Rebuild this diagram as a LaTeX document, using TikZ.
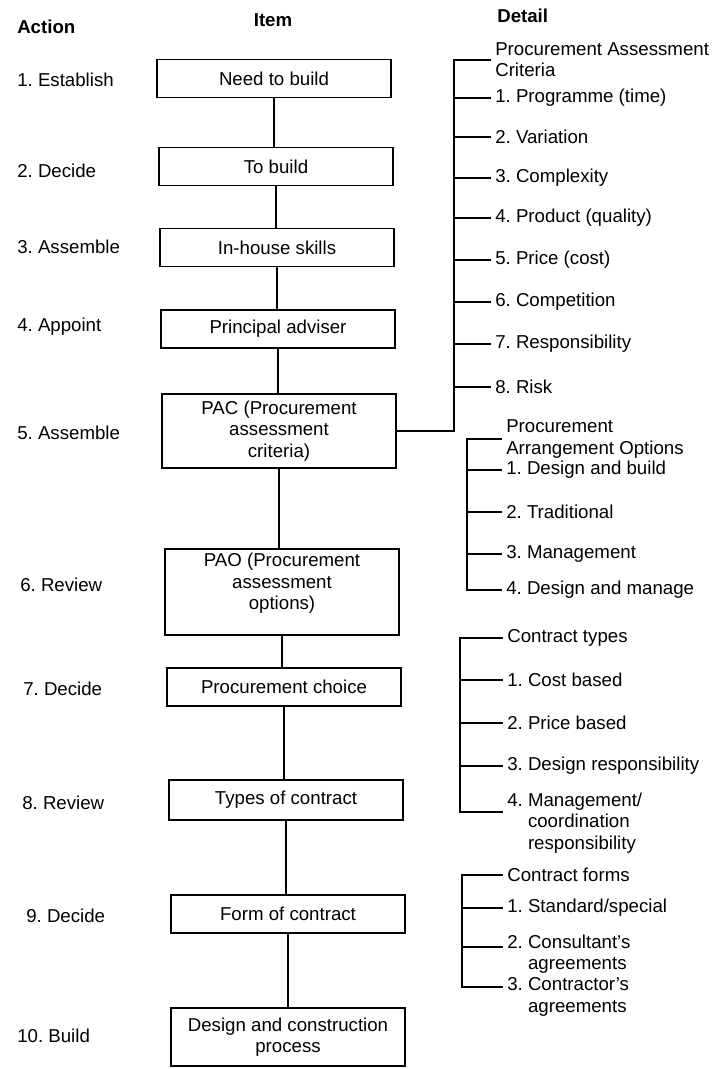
\documentclass[tikz,border=0pt]{standalone}
\usepackage{fontspec}
\setmainfont{Liberation Sans}
\begin{document}
\frenchspacing
\begin{tikzpicture}[x=0.75pt,y=-0.75pt,
  every node/.style={font=\fontsize{14}{16}\selectfont},
  box/.style={draw, line width=1.1pt, minimum width=175.5pt, minimum height=28.5pt, inner sep=2pt, align=center},
  act/.style={anchor=west, inner sep=0pt},
  det/.style={anchor=west, inner xsep=3pt, inner ysep=1pt, align=left},
  head/.style={font=\fontsize{14}{16}\selectfont\bfseries},
  link/.style={line width=1.1pt}
]
\useasboundingbox (0,0) rectangle (719,1069);

% column headings
\node[head, act] (hAction) at (17,27) {Action};
\node[head] (hItem) at (273,20) {Item};
\node[head, act] (hDetail) at (497,16) {Detail};

% actions
\node[act] (a1) at (17,80) {1. Establish};
\node[act] (a2) at (17,171) {2. Decide};
\node[act] (a3) at (17,247) {3. Assemble};
\node[act] (a4) at (17,327) {4. Appoint};
\node[act] (a5) at (17,433) {5. Assemble};
\node[act] (a6) at (20,585) {6. Review};
\node[act] (a7) at (23,689) {7. Decide};
\node[act] (a8) at (22,803) {8. Review};
\node[act] (a9) at (26,916) {9. Decide};
\node[act] (a10) at (17,1036) {10. Build};

% items
\node[box] (b1) at (274,78.5) {Need to build};
\node[box] (b2) at (276,166.5) {To build};
\node[box] (b3) at (277,247.5) {In-house skills};
\node[box] (b4) at (278,329) {Principal adviser};
\node[box, minimum height=55.5pt] (b5) at (279,431) {PAC (Procurement\\assessment\\criteria)};
\node[box, minimum height=64.5pt] (b6) at (282,592) {PAO (Procurement\\assessment\\options)\\\mbox{}};
\node[box] (b7) at (284,687) {Procurement choice};
\node[box, minimum height=30pt] (b8) at (286,800) {Types of contract};
\node[box] (b9) at (288,914) {Form of contract};
\node[box, minimum height=43.5pt] (b10) at (288,1037) {Design and construction\\process};

% vertical links between successive items
\foreach \a/\b in {b1/b2,b2/b3,b3/b4,b4/b5,b5/b6,b6/b7,b7/b8,b8/b9,b9/b10}
  \draw[link] (\a.south) -- (\a.south |- \b.north);

% procurement assessment criteria
\coordinate (v1top) at (454,60);
\node[det] (d1h) at (491,60) {Procurement Assessment\\Criteria};
\node[det] (d1-1) at (491,98) {1. Programme (time)};
\node[det] (d1-2) at (491,137) {2. Variation};
\node[det] (d1-3) at (491,178) {3. Complexity};
\node[det] (d1-4) at (491,218) {4. Product (quality)};
\node[det] (d1-5) at (491,260) {5. Price (cost)};
\node[det] (d1-6) at (491,302) {6. Competition};
\node[det] (d1-7) at (491,344) {7. Responsibility};
\node[det] (d1-8) at (491,387) {8. Risk};
\draw[link] (b5.east) -- (b5.east -| v1top) -- (v1top) -- (d1h.west);
\foreach \i in {1,...,8} \draw[link] (d1-\i.west -| v1top) -- (d1-\i.west);

% procurement arrangement options
\coordinate (v2top) at (467,439);
\node[det] (d2h) at (502,439) {Procurement\\Arrangement Options};
\node[det] (d2-1) at (502,470) {1. Design and build};
\node[det] (d2-2) at (502,512) {2. Traditional};
\node[det] (d2-3) at (502,554) {3. Management};
\node[det] (d2-4) at (502,590) {4. Design and manage};
\draw[link] (d2h.west) -- (v2top) -- (v2top |- d2-4.west) -- (d2-4.west);
\foreach \i in {1,2,3} \draw[link] (d2-\i.west -| v2top) -- (d2-\i.west);

% contract types
\coordinate (v3top) at (460,638);
\coordinate (t3-4) at (503,812);
\node[det] (d3h) at (503,638) {Contract types};
\node[det] (d3-1) at (503,680) {1. Cost based};
\node[det] (d3-2) at (503,723) {2. Price based};
\node[det] (d3-3) at (503,766) {3. Design responsibility};
\node[det] (d3-4) at (503,823) {4. Management/\\\phantom{4. }coordination\\\phantom{4. }responsibility};
\draw[link] (d3h.west) -- (v3top) -- (v3top |- t3-4) -- (t3-4);
\foreach \i in {1,2,3} \draw[link] (d3-\i.west -| v3top) -- (d3-\i.west);

% contract forms
\coordinate (v4top) at (462,875);
\coordinate (t4-2) at (503,947);
\coordinate (t4-3) at (503,987);
\node[det] (d4h) at (503,875) {Contract forms};
\node[det] (d4-1) at (503,908) {1. Standard/special};
\node[det] (d4-2) at (503,954) {2. Consultant's\\\phantom{2. }agreements};
\node[det] (d4-3) at (503,997) {3. Contractor's\\\phantom{3. }agreements};
\draw[link] (d4h.west) -- (v4top) -- (v4top |- t4-3) -- (t4-3);
\draw[link] (d4-1.west -| v4top) -- (d4-1.west);
\draw[link] (t4-2 -| v4top) -- (t4-2);
\end{tikzpicture}
\end{document}
